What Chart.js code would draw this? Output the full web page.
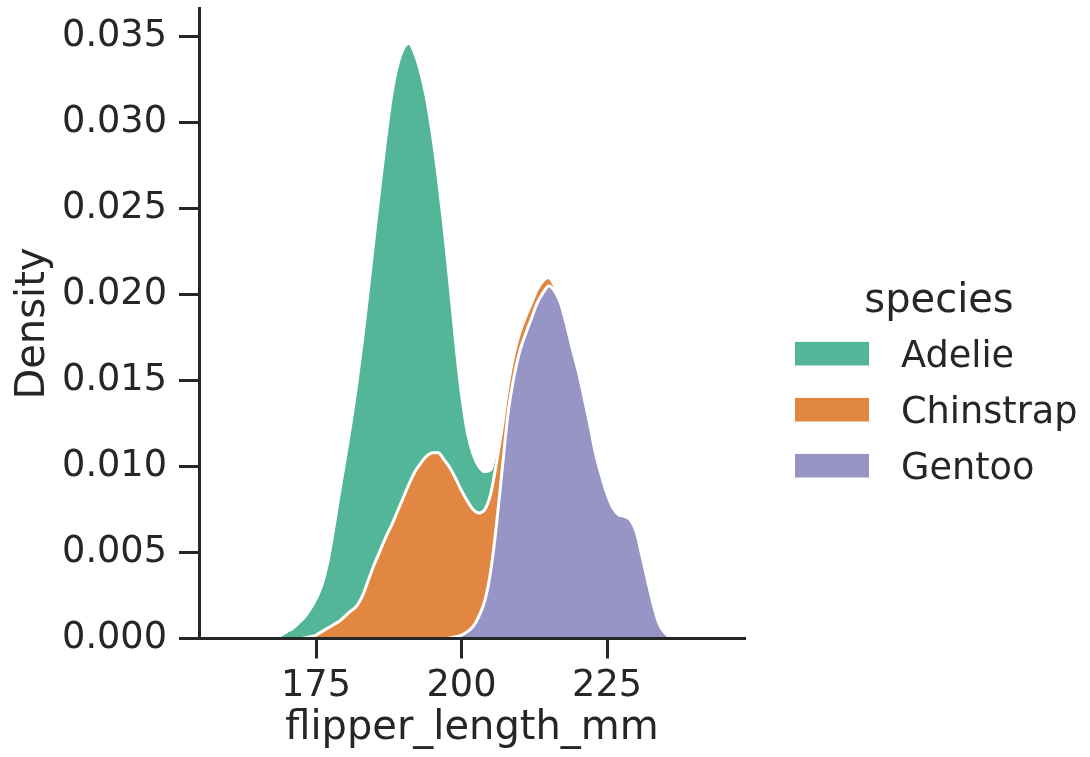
<!DOCTYPE html>
<html>
<head>
<meta charset="utf-8">
<title>Flipper length density by species</title>
<script src="https://cdn.jsdelivr.net/npm/chart.js@4.4.1/dist/chart.umd.min.js"></script>
<style>
  html, body { margin: 0; padding: 0; background: #ffffff; }
  #wrap { width: 1090px; height: 757px; }
</style>
</head>
<body>
<div id="wrap"><canvas id="chart" width="1090" height="757"></canvas></div>
<script>
// Evaluation grid for the kernel density estimates (mm)
const flipperLength = [
  160,161,162,163,164,165,166,167,168,169,
  170,171,172,173,174,175,176,177,178,179,
  180,181,182,183,184,185,186,187,188,189,
  190,191,192,193,194,195,196,197,198,199,
  200,201,202,203,204,205,206,207,208,209,
  210,211,212,213,214,215,216,217,218,219,
  220,221,222,223,224,225,226,227,228,229,
  230,231,232,233,234,235,236,237,238,239,
  240
];

// Per-species density contributions (jointly normalised), one value per grid point
const adelieDensity = [
  0,0,0,0,0,0,0,0.00005,0.0001,0.0002,
  0.0004,0.0006,0.0009,0.0012,0.0016,0.0021,0.0027,0.0038,0.0055,0.0074,
  0.0091,0.0109,0.0129,0.0149,0.0169,0.0190,0.0212,0.0232,0.0250,0.0259,
  0.0261,0.0256,0.0243,0.0227,0.0208,0.0185,0.0160,0.0135,0.0107,0.0079,
  0.0056,0.0040,0.0032,0.0027,0.0022,0.0014,0.0009,0.0006,0.0005,0.0004,
  0.0004,0.0003,0.0002,0.0001,0.00005,0,0,0,0,0,
  0,0,0,0,0,0,0,0,0,0,
  0,0,0,0,0,0,0,0,0,0,
  0
];

const chinstrapDensity = [
  0,0,0,0,0,0,0,0,0,0,
  0,0,0,0.00003,0.0001,0.0002,0.0004,0.0006,0.0008,0.0010,
  0.0013,0.0016,0.0019,0.0025,0.0034,0.0043,0.0051,0.0059,0.0066,0.0074,
  0.0082,0.0090,0.0097,0.0102,0.0106,0.0108,0.0108,0.0104,0.0099,0.0092,
  0.0084,0.0076,0.0068,0.0060,0.0053,0.0045,0.0036,0.0024,0.0016,0.0013,
  0.0011,0.0010,0.0009,0.0008,0.0007,0.0005,0.0003,0.0002,0.0001,0.00005,
  0.00002,0,0,0,0,0,0,0,0,0,
  0,0,0,0,0,0,0,0,0,0,
  0
];

const gentooDensity = [
  0,0,0,0,0,0,0,0,0,0,
  0,0,0,0,0,0,0,0,0,0,
  0,0,0,0,0,0,0,0,0,0,
  0,0,0,0,0,0,0,0,0.00003,0.0001,
  0.0002,0.0004,0.0007,0.0013,0.0022,0.0039,0.0066,0.0099,0.0131,0.0152,
  0.0167,0.0177,0.0186,0.0195,0.0201,0.0205,0.0202,0.0195,0.0183,0.0169,
  0.0156,0.0141,0.0125,0.0108,0.0095,0.0084,0.0076,0.0072,0.0071,0.0069,
  0.0062,0.0048,0.0033,0.0019,0.0008,0.0003,0.0001,0.00003,0,0,
  0
];

// Legend / hue order and palette
const species = ['Adelie', 'Chinstrap', 'Gentoo'];
const speciesColors = ['#54b699', '#e28741', '#9794c6'];
const densityBySpecies = [adelieDensity, chinstrapDensity, gentooDensity];

// Axis ticks
const xTickValues = [175, 200, 225];
const yTickValues = [0, 0.005, 0.010, 0.015, 0.020, 0.025, 0.030, 0.035];

const INK = '#262626';
const FONT = 'DejaVu Sans';
const TICK_SIZE = 36.67;
const LABEL_SIZE = 40;

// Stack from the bottom up: Gentoo, then Chinstrap, then Adelie on top
const stackOrder = [2, 1, 0];
const datasets = stackOrder.map((k, i) => ({
  label: species[k],
  data: flipperLength.map((x, j) => ({ x: x, y: densityBySpecies[k][j] })),
  backgroundColor: speciesColors[k],
  borderColor: '#ffffff',
  borderWidth: 3,
  fill: i === 0 ? 'origin' : '-1',
  pointRadius: 0,
  pointHoverRadius: 0,
  cubicInterpolationMode: 'monotone'
}));

// Legend drawn beside the axes, in hue order with a title
const speciesLegend = {
  id: 'speciesLegend',
  afterDraw(chart) {
    const ctx = chart.ctx;
    const left = 795, boxW = 74, boxH = 23.6, firstY = 353.7, step = 56;
    ctx.save();
    ctx.fillStyle = INK;
    ctx.textAlign = 'center';
    ctx.textBaseline = 'alphabetic';
    ctx.font = LABEL_SIZE + 'px "' + FONT + '"';
    ctx.fillText('species', 939, 311.5);
    ctx.font = TICK_SIZE + 'px "' + FONT + '"';
    ctx.textAlign = 'left';
    species.forEach((name, i) => {
      const ds = chart.data.datasets.find(d => d.label === name);
      const cy = firstY + i * step;
      ctx.fillStyle = ds.backgroundColor;
      ctx.fillRect(left, cy - boxH / 2, boxW, boxH);
      ctx.fillStyle = INK;
      ctx.fillText(name, 901, cy + 13);
    });
    ctx.restore();
  }
};

const axisGrid = { display: true, drawOnChartArea: false, drawTicks: true, tickLength: 20, tickWidth: 3, tickColor: INK, z: 1 };
const axisBorder = { display: true, color: INK, width: 3, z: 1 };

new Chart(document.getElementById('chart'), {
  type: 'line',
  data: { datasets: datasets },
  plugins: [speciesLegend],
  options: {
    responsive: false,
    animation: false,
    devicePixelRatio: 1,
    layout: { padding: { left: 0, right: 345, top: 8.5, bottom: 0 } },
    plugins: {
      legend: { display: false },
      tooltip: { enabled: false }
    },
    scales: {
      x: {
        type: 'linear',
        min: 154.9,
        max: 248.7,
        z: 1,
        border: axisBorder,
        grid: axisGrid,
        ticks: {
          color: INK,
          font: { family: FONT, size: TICK_SIZE },
          padding: 6,
          maxRotation: 0,
          callback: v => String(v)
        },
        afterBuildTicks: axis => { axis.ticks = xTickValues.map(v => ({ value: v })); },
        afterFit: axis => {
          axis.height = 118.5;
          axis.paddingLeft = 0; axis.paddingRight = 0;
        },
        title: {
          display: true,
          text: 'flipper_length_mm',
          color: INK,
          font: { family: FONT, size: LABEL_SIZE },
          padding: { top: 0, bottom: 4 }
        }
      },
      y: {
        stacked: true,
        min: 0,
        max: 0.03664,
        z: 1,
        border: axisBorder,
        grid: axisGrid,
        ticks: {
          color: INK,
          font: { family: FONT, size: TICK_SIZE },
          padding: 12,
          callback: v => Number(v).toFixed(3)
        },
        afterBuildTicks: axis => { axis.ticks = yTickValues.map(v => ({ value: v })); },
        afterFit: axis => {
          axis.width = 199;
          axis.paddingTop = 0; axis.paddingBottom = 0;
        },
        title: {
          display: true,
          text: 'Density',
          color: INK,
          font: { family: FONT, size: LABEL_SIZE },
          padding: { top: 10, bottom: 0 }
        }
      }
    }
  }
});
</script>
</body>
</html>
